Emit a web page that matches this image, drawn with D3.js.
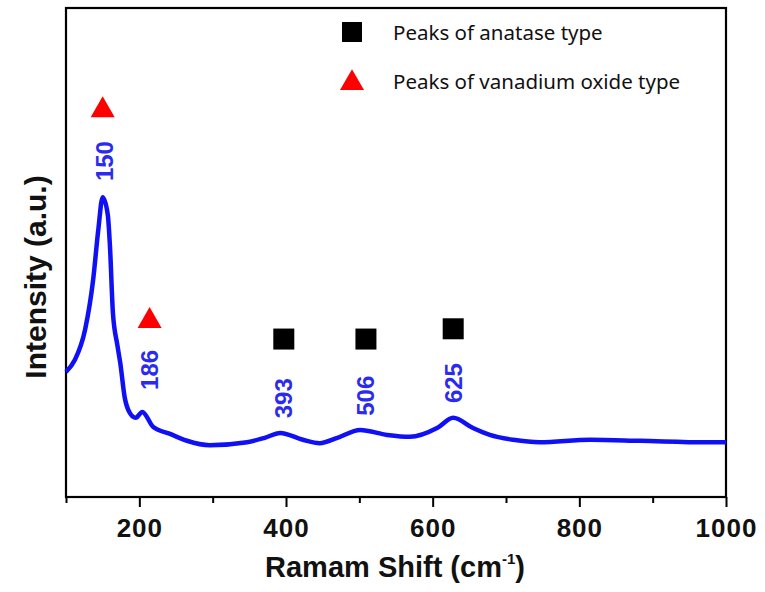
<!DOCTYPE html>
<html lang="en">
<head>
<meta charset="UTF-8" />
<title>Raman spectrum</title>
<script src="https://d3js.org/d3.v7.min.js"></script>
<style>
  body { margin: 0; background: #fff; }
  svg { display: block; }
</style>
</head>
<body>
<svg width="765" height="592"></svg>
<script>
// spectrum (Raman shift, intensity in arbitrary units)
const shift = [100, 112, 126, 137, 144, 150, 157, 160, 164, 170, 174, 180, 187, 195, 204, 219, 242, 265, 296, 347, 371, 392, 423, 446, 470, 501, 538, 569, 606, 628, 655, 678, 710, 746, 815, 883, 974, 1000];
const intensity = [25.6, 28.0, 34.2, 44.4, 54.6, 61.3, 57.7, 51.1, 37.6, 31.1, 27.4, 20.4, 17.2, 16.2, 17.4, 14.3, 12.9, 11.5, 10.6, 11.2, 12.1, 13.1, 11.7, 11.0, 12.1, 13.7, 12.7, 12.3, 14.1, 16.2, 14.1, 12.7, 11.7, 11.2, 11.7, 11.5, 11.2, 11.2];

// peak labels
const peakText = ["150", "186", "393", "506", "625"];
const peakX = [153, 214, 397, 509, 628];
const peakY = [68.7, 26.0, 20.2, 20.7, 23.3];

// markers
const squareX = [397, 509, 628];
const squareY = [32.3, 32.3, 34.4];
const triangleX = [150, 214];
const triangleY = [79.1, 36.0];

const majorTicks = [200, 400, 600, 800, 1000];
const minorTicks = [100, 300, 500, 700, 900];

const legendLabels = ["Peaks of anatase type", "Peaks of vanadium oxide type"];

const plotLeft = 66, plotRight = 726, plotTop = 8, plotBottom = 497;
const blue = "#1010f5";

const svg = d3.select("svg");

const x = d3.scaleLinear().domain([100, 1000]).range([plotLeft, plotRight]);
const y = d3.scaleLinear().domain([0, 100]).range([plotBottom, plotTop]);

// x axis with major + minor ticks
const xAxis = svg.append("g")
    .attr("transform", `translate(0,${plotBottom})`)
    .call(d3.axisBottom(x).tickValues(majorTicks).tickFormat(d3.format("d"))
        .tickSize(10).tickSizeOuter(0).tickPadding(12));
xAxis.select(".domain").remove();
xAxis.selectAll(".tick line").attr("stroke", "#000").attr("stroke-width", 2);
xAxis.selectAll(".tick text")
    .attr("font-family", "Liberation Sans, Arial, sans-serif")
    .attr("font-weight", "bold")
    .attr("font-size", "26px")
    .attr("letter-spacing", "1px")
    .attr("fill", "#111");

svg.append("g")
    .attr("transform", `translate(0,${plotBottom})`)
    .call(d3.axisBottom(x).tickValues(minorTicks).tickSize(6).tickSizeOuter(0).tickFormat(""))
    .call(g => g.select(".domain").remove())
    .selectAll(".tick line").attr("stroke", "#000").attr("stroke-width", 2);

// frame
svg.append("rect")
    .attr("x", plotLeft).attr("y", plotTop)
    .attr("width", plotRight - plotLeft).attr("height", plotBottom - plotTop)
    .attr("fill", "none").attr("stroke", "#000").attr("stroke-width", 2.2);

// spectrum
const data = shift.map((s, i) => ({ s: s, v: intensity[i] }));
const line = d3.line()
    .x(d => x(d.s))
    .y(d => y(d.v))
    .curve(d3.curveMonotoneX);

svg.append("path")
    .datum(data)
    .attr("d", line)
    .attr("fill", "none")
    .attr("stroke", blue)
    .attr("stroke-width", 4.5)
    .attr("stroke-linejoin", "round");

// peak labels (rotated)
svg.selectAll(".peak")
    .data(peakText)
    .enter()
    .append("text")
    .attr("class", "peak")
    .attr("transform", (d, i) => `translate(${x(peakX[i])},${y(peakY[i])}) rotate(-90)`)
    .attr("text-anchor", "middle")
    .attr("dominant-baseline", "central")
    .attr("font-family", "Liberation Sans, Arial, sans-serif")
    .attr("font-weight", "bold")
    .attr("font-size", "24px")
    .attr("fill", "#2b2bf0")
    .text(d => d);

// markers
const sq = 21;
svg.selectAll(".sq")
    .data(squareX)
    .enter()
    .append("rect")
    .attr("class", "sq")
    .attr("x", d => x(d) - sq / 2)
    .attr("y", (d, i) => y(squareY[i]) - sq / 2)
    .attr("width", sq).attr("height", sq)
    .attr("fill", "#000");

const tri = d3.symbol().type(d3.symbolTriangle).size(250);
svg.selectAll(".tri")
    .data(triangleX)
    .enter()
    .append("path")
    .attr("class", "tri")
    .attr("d", tri)
    .attr("transform", (d, i) => `translate(${x(d)},${y(triangleY[i])})`)
    .attr("fill", "#ff0000");

// legend
const legend = svg.append("g").attr("transform", "translate(352,32)");
legend.append("rect")
    .attr("x", -10).attr("y", -10).attr("width", 20).attr("height", 20)
    .attr("fill", "#000");
legend.append("path")
    .attr("d", tri)
    .attr("transform", "translate(0,51)")
    .attr("fill", "#ff0000");
legend.selectAll("text")
    .data(legendLabels)
    .enter()
    .append("text")
    .attr("x", 41)
    .attr("y", (d, i) => i * 49)
    .attr("dominant-baseline", "central")
    .attr("font-family", "Noto Sans, sans-serif")
    .attr("font-size", "20.5px")
    .attr("fill", "#111")
    .text(d => d);

// axis titles
const xTitle = svg.append("text")
    .attr("x", 395)
    .attr("y", 577)
    .attr("text-anchor", "middle")
    .attr("font-family", "Liberation Sans, Arial, sans-serif")
    .attr("font-weight", "bold")
    .attr("font-size", "29px")
    .attr("fill", "#111");
xTitle.append("tspan").text("Ramam Shift (cm");
xTitle.append("tspan").attr("font-size", "15px").attr("dy", -13).text("-1");
xTitle.append("tspan").attr("dy", 13).text(")");

svg.append("text")
    .attr("transform", "translate(46,277) rotate(-90)")
    .attr("text-anchor", "middle")
    .attr("font-family", "Liberation Sans, Arial, sans-serif")
    .attr("font-weight", "bold")
    .attr("font-size", "30px")
    .attr("fill", "#111")
    .text("Intensity (a.u.)");
</script>
</body>
</html>
